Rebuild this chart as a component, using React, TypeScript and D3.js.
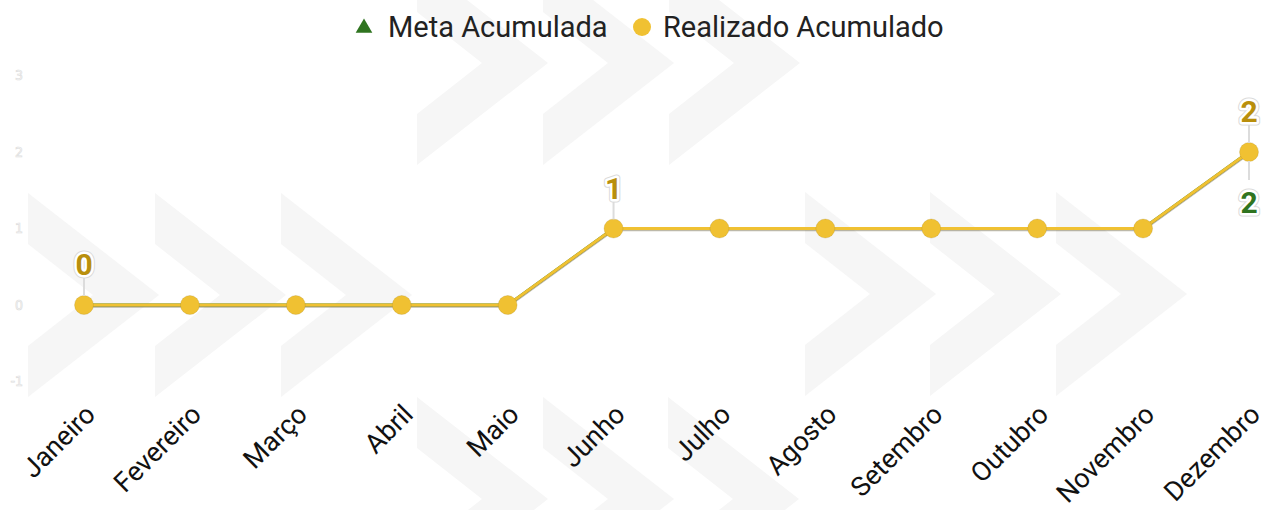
import React from "react";
import * as d3 from "d3";

const months = ["Janeiro", "Fevereiro", "Março", "Abril", "Maio", "Junho", "Julho", "Agosto", "Setembro", "Outubro", "Novembro", "Dezembro"];
const metaAcumulada = [0, 0, 0, 0, 0, 1, 1, 1, 1, 1, 1, 2];
const realizadoAcumulado = [0, 0, 0, 0, 0, 1, 1, 1, 1, 1, 1, 2];
const yTicks = [-1, 0, 1, 2, 3];
const realizadoLabelIdx = [0, 5, 11];
const metaLabelIdx = [11];
const seriesNames = ["Meta Acumulada", "Realizado Acumulado"];

const W = 1267;
const H = 510;
const GOLD = "#f0c132";
const GOLD_TEXT = "#b98f0c";
const GREEN = "#2f7420";
const FONT = "Roboto, 'Noto Sans', sans-serif";

// decorative background chevrons (watermark)
const chevronRows = [
  { xs: [417, 543, 669], mid: 63 },
  { xs: [28, 155, 281], mid: 295 },
  { xs: [805, 930, 1056], mid: 294 },
  { xs: [417, 543, 668], mid: 499 },
];

function chevronPath(x0: number, mid: number) {
  const w = 131, hh = 102, t = 51, d = 65;
  return `M${x0},${mid - hh} L${x0 + w},${mid} L${x0},${mid + hh} L${x0},${mid + hh - t} L${x0 + d},${mid} L${x0},${mid - hh + t} Z`;
}

export default function App() {
  const x = d3.scalePoint<string>().domain(months).range([84, 1249]);
  const y = d3.scaleLinear().domain([-1, 3]).range([381.5, 75.5]);

  const line = d3
    .line<number>()
    .x((_, i) => x(months[i]) as number)
    .y((v) => y(v));

  const tri = d3.symbol().type(d3.symbolTriangle).size(110)();

  const labelText = (txt: string, cx: number, baseline: number, color: string, key: string) => (
    <g key={key}>
      <text x={cx} y={baseline} textAnchor="middle" fontFamily={FONT} fontWeight={700} fontSize={30}
        fill="none" stroke="#dadada" strokeWidth={7} strokeLinejoin="round">{txt}</text>
      <text x={cx} y={baseline} textAnchor="middle" fontFamily={FONT} fontWeight={700} fontSize={30}
        fill={color} stroke="#ffffff" strokeWidth={5} strokeLinejoin="round" style={{ paintOrder: "stroke" }}>{txt}</text>
    </g>
  );

  return (
    <svg width={W} height={H} style={{ position: "absolute", left: 0, top: 0, background: "#fff" }}>
      <g>
        {chevronRows.map((r, ri) =>
          r.xs.map((x0, i) => <path key={`c${ri}-${i}`} d={chevronPath(x0, r.mid)} fill="#f6f6f6" />)
        )}
      </g>

      {/* y axis labels */}
      <g>
        {yTicks.map((t) => (
          <text key={t} x={23} y={y(t)} dy="0.35em" textAnchor="end" fontFamily="'DejaVu Sans Condensed', Roboto, sans-serif" fontSize={14}
            fill="#ffffff" stroke="#dedede" strokeWidth={0.7}>{t}</text>
        ))}
      </g>

      {/* x axis labels */}
      <g>
        {months.map((m) => (
          <text key={m} transform={`translate(${(x(m) as number) + 13},${416}) rotate(-45)`} textAnchor="end"
            fontFamily={FONT} fontSize={27} fill="#111">{m}</text>
        ))}
      </g>

      {/* meta series */}
      <path d={line(metaAcumulada) || ""} fill="none" stroke={GREEN} strokeWidth={3} />
      {metaAcumulada.map((v, i) => (
        <path key={`mt${i}`} d={tri || ""} transform={`translate(${x(months[i])},${y(v)})`} fill={GREEN} />
      ))}

      {/* realizado series */}
      <path d={line(realizadoAcumulado) || ""} fill="none" stroke="rgba(90,80,40,0.4)" strokeWidth={3}
        transform="translate(0,1.2)" />
      <path d={line(realizadoAcumulado) || ""} fill="none" stroke={GOLD} strokeWidth={3} />
      {realizadoAcumulado.map((v, i) => (
        <circle key={`rc${i}`} cx={x(months[i])} cy={y(v)} r={9.5} fill={GOLD} stroke="rgba(150,120,30,0.25)" strokeWidth={0.8} />
      ))}

      {/* connectors + labels realizado (above) */}
      {realizadoLabelIdx.map((i) => {
        const cx = x(months[i]) as number;
        const cy = y(realizadoAcumulado[i]);
        return (
          <g key={`rl${i}`}>
            <line x1={cx} x2={cx} y1={cy - 9} y2={cy - 27} stroke="#dcdcdc" strokeWidth={2} />
            {labelText(String(realizadoAcumulado[i]), cx, cy - 30, GOLD_TEXT, `rlt${i}`)}
          </g>
        );
      })}
      {metaLabelIdx.map((i) => {
        const cx = x(months[i]) as number;
        const cy = y(metaAcumulada[i]);
        return (
          <g key={`ml${i}`}>
            <line x1={cx} x2={cx} y1={cy + 9} y2={cy + 28} stroke="#dcdcdc" strokeWidth={2} />
            {labelText(String(metaAcumulada[i]), cx, cy + 61, GREEN, `mlt${i}`)}
          </g>
        );
      })}

      {/* legend */}
      <g>
        <path d={d3.symbol().type(d3.symbolTriangle).size(120)() || ""} transform="translate(364,28)" fill={GREEN} />
        <text x={388} y={37} fontFamily={FONT} fontSize={29} fill="#222">{seriesNames[0]}</text>
        <circle cx={642} cy={27} r={9} fill={GOLD} />
        <text x={663} y={37} fontFamily={FONT} fontSize={29} fill="#222">{seriesNames[1]}</text>
      </g>
    </svg>
  );
}
